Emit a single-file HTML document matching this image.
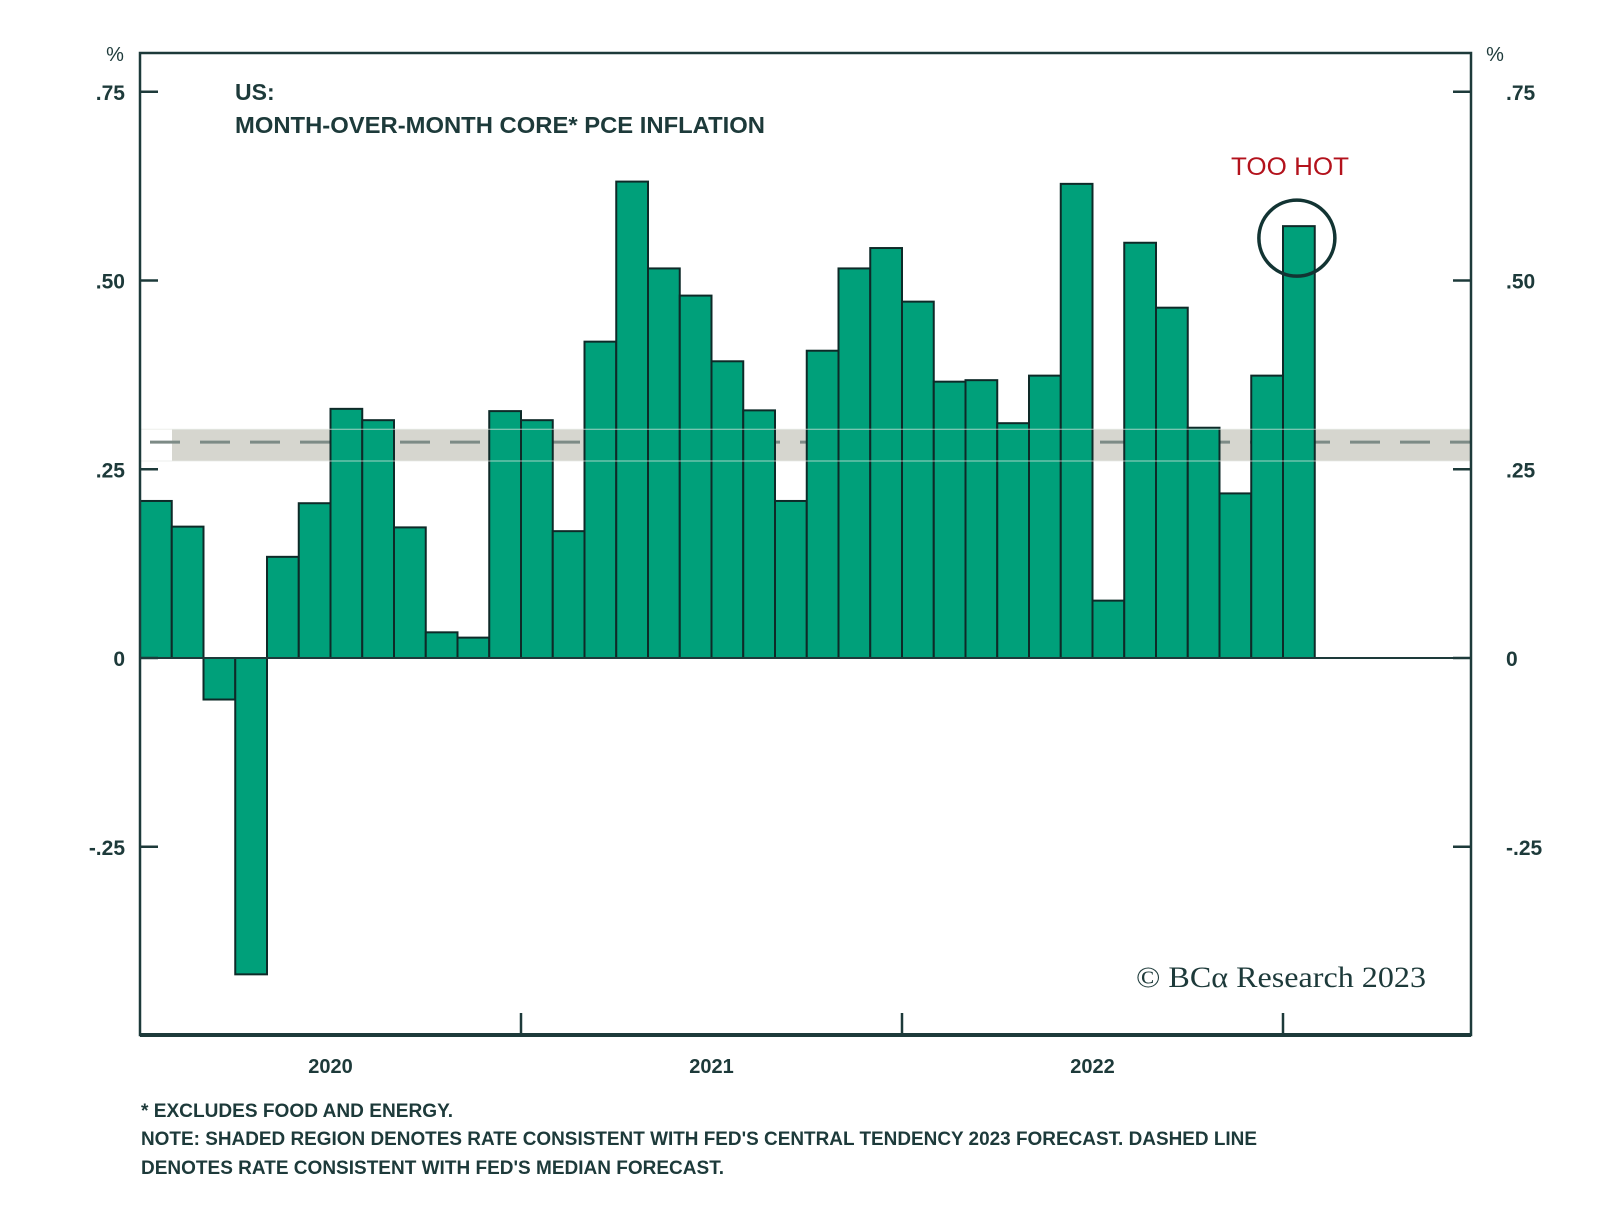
<!DOCTYPE html>
<html><head><meta charset="utf-8"><style>
html,body{margin:0;padding:0;background:#fff;}
svg{display:block;}
text{font-family:"Liberation Sans",sans-serif;fill:#1d3a3a;}
</style></head><body>
<svg id="chart" width="1600" height="1209" viewBox="0 0 1600 1209" xmlns="http://www.w3.org/2000/svg">
<g id="band-layer"></g>
<g id="bars"></g>
<g id="axes"></g>
<text x="235" y="100" font-size="23" font-weight="bold">US:</text>
<text x="235" y="133" font-size="23" font-weight="bold" textLength="530" lengthAdjust="spacingAndGlyphs">MONTH-OVER-MONTH CORE* PCE INFLATION</text>
<text x="1290" y="175" font-size="25" text-anchor="middle" style="fill:#b3121c" textLength="118" lengthAdjust="spacingAndGlyphs">TOO HOT</text>
<text x="1136" y="987" font-size="30" style="font-family:'Liberation Serif',serif" textLength="290" lengthAdjust="spacingAndGlyphs">© BCα Research 2023</text>
<text x="141" y="1117" font-size="19" font-weight="bold" textLength="312" lengthAdjust="spacingAndGlyphs">*  EXCLUDES FOOD AND ENERGY.</text>
<text x="141" y="1145" font-size="19" font-weight="bold" textLength="1116" lengthAdjust="spacingAndGlyphs">NOTE: SHADED REGION DENOTES RATE CONSISTENT WITH FED'S CENTRAL TENDENCY 2023 FORECAST. DASHED LINE</text>
<text x="141" y="1174" font-size="19" font-weight="bold" textLength="583" lengthAdjust="spacingAndGlyphs">DENOTES RATE CONSISTENT WITH FED'S MEDIAN FORECAST.</text>
</svg>
<script>
const values = [0.208,0.174,-0.055,-0.419,0.134,0.205,0.330,0.315,0.173,0.034,0.027,0.327,
  0.315,0.168,0.419,0.631,0.516,0.480,0.393,0.328,0.208,0.407,0.516,0.543,
  0.472,0.366,0.368,0.311,0.374,0.628,0.076,0.550,0.464,0.305,0.218,0.374,0.572];
const yTicks = [0.75,0.50,0.25,0,-0.25];
const yTickLabels = [".75",".50",".25","0","-.25"];
const years = ["2020","2021","2022"];
const bandRange = [0.261,0.303];
const medianForecast = [0.286];
const highlightIndex = [36];

const NS="http://www.w3.org/2000/svg";
const L=140,R=1471,T=53,B=1035,monthW=31.75;
function y(v){return 658 - v*755;}
function x(i){return L + i*monthW;}
function mk(tag,attrs,parent){const e=document.createElementNS(NS,tag);for(const k in attrs)e.setAttribute(k,attrs[k]);parent.appendChild(e);return e;}

const bandG=document.getElementById('band-layer');
const band=mk('rect',{x:172,y:y(bandRange[1]),width:R-172,height:y(bandRange[0])-y(bandRange[1]),fill:'#d6d6cf'},bandG);


const med=mk('line',{x1:L,x2:R,y1:y(medianForecast[0]),y2:y(medianForecast[0]),stroke:'#7d8b86','stroke-width':3,'stroke-dasharray':'30,20','stroke-dashoffset':'-10'},bandG);



const barsG=document.getElementById('bars');
values.forEach((v,i)=>{
  const top=Math.min(y(v),y(0)),h=Math.abs(y(v)-y(0));
  const r=mk('rect',{x:x(i),y:top,width:monthW,height:h,fill:'#00a07a',stroke:'#0e2a28','stroke-width':2},barsG);
  
  
});
const bl1=mk('line',{x1:L,x2:R,y1:y(bandRange[1]),y2:y(bandRange[1]),stroke:'#e6e9e4','stroke-width':1,opacity:0.7},barsG);


const bl2=mk('line',{x1:L,x2:R,y1:y(bandRange[0]),y2:y(bandRange[0]),stroke:'#e6e9e4','stroke-width':1,opacity:0.7},barsG);


const hi=highlightIndex[0];
const circ=mk('circle',{cx:x(hi)+monthW/2-2,cy:y(values[hi])+12,r:38,fill:'none',stroke:'#123433','stroke-width':3.5},barsG);



const ax=document.getElementById('axes');
const zl=mk('line',{x1:L,x2:R,y1:y(0),y2:y(0),stroke:'#1d3a3a','stroke-width':2},ax);


const frame=mk('rect',{x:L,y:T,width:R-L,height:B-T,fill:'none',stroke:'#1d3a3a','stroke-width':2.5},ax);


const bot=mk('line',{x1:L,x2:R,y1:B,y2:B,stroke:'#1d3a3a','stroke-width':4},ax);


yTicks.forEach((v,i)=>{
  const t1=mk('line',{x1:L,x2:L+18,y1:y(v),y2:y(v),stroke:'#1d3a3a','stroke-width':2.5},ax);
  
  
  const t2=mk('line',{x1:R-18,x2:R,y1:y(v),y2:y(v),stroke:'#1d3a3a','stroke-width':2.5},ax);
  
  
  const a=mk('text',{x:125,y:y(v)+8,'font-size':21,'font-weight':'bold','text-anchor':'end'},ax);
  a.textContent=yTickLabels[i];
  
  
  const b=mk('text',{x:1506,y:y(v)+8,'font-size':21,'font-weight':'bold'},ax);
  b.textContent=yTickLabels[i];
  
  
});
const p1=mk('text',{x:115,y:61,'font-size':20,'text-anchor':'middle'},ax);p1.textContent='%';


const p2=mk('text',{x:1495,y:61,'font-size':20,'text-anchor':'middle'},ax);p2.textContent='%';


years.forEach((yr,i)=>{
  const t=mk('line',{x1:x(12*(i+1)),x2:x(12*(i+1)),y1:B-22,y2:B,stroke:'#1d3a3a','stroke-width':2.5},ax);
  
  
  const l=mk('text',{x:x(12*i+6),y:1073,'font-size':20,'font-weight':'bold','text-anchor':'middle'},ax);
  l.textContent=yr;
  
  
});
</script>
</body></html>
